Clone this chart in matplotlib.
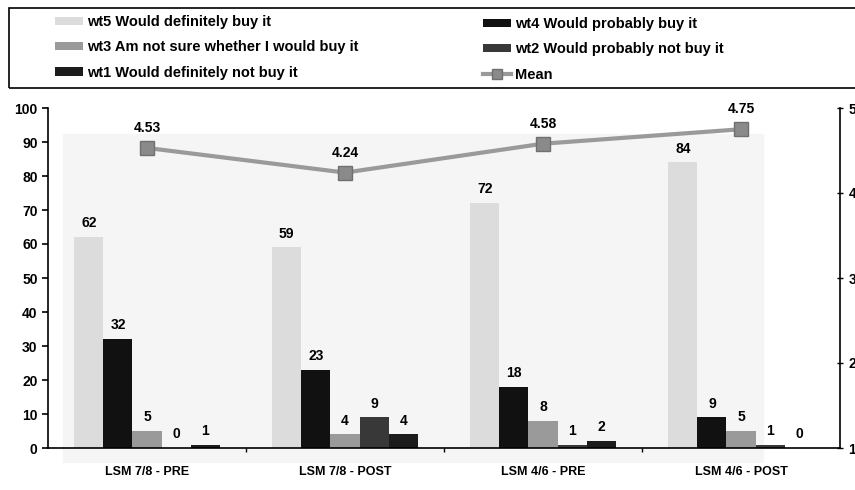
import matplotlib
matplotlib.use('Agg')
import matplotlib.pyplot as plt
from matplotlib.lines import Line2D
from matplotlib.patches import Patch, Rectangle
import numpy as np

plt.rcParams['font.family'] = ['Liberation Sans', 'DejaVu Sans']
plt.rcParams['font.weight'] = 'bold'

groups = ['LSM 7/8 - PRE', 'LSM 7/8 - POST', 'LSM 4/6 - PRE', 'LSM 4/6 - POST']
wt5 = [62, 59, 72, 84]
wt4 = [32, 23, 18, 9]
wt3 = [5, 4, 8, 5]
wt2 = [0, 9, 1, 1]
wt1 = [1, 4, 2, 0]
mean = [4.53, 4.24, 4.58, 4.75]

series = [
    ('wt5 Would definitely buy it', wt5, '#dcdcdc'),
    ('wt4 Would probably buy it', wt4, '#111111'),
    ('wt3 Am not sure whether I would buy it', wt3, '#9a9a9a'),
    ('wt2 Would probably not buy it', wt2, '#383838'),
    ('wt1 Would definitely not buy it', wt1, '#1c1c1c'),
]
MEAN_STYLE = dict(color='#9a9a9a', linewidth=3, marker='s',
                  markerfacecolor='#8a8a8a', markeredgecolor='#707070')

fig = plt.figure(figsize=(8.55, 4.9), dpi=100)
ax = fig.add_axes([48 / 855, 1 - 448 / 490, 792 / 855, 340 / 490])
ax.patch.set_alpha(0)
# faint grey plot area seen in the scan
ax.add_patch(Rectangle((63 / 855, 1 - 462 / 490), 700 / 855, 328 / 490,
                       transform=fig.transFigure, color='#f5f5f5',
                       clip_on=False, zorder=0))

x = np.arange(len(groups))
w = 0.147
for i, (name, vals, col) in enumerate(series):
    xs = x + (i - 2) * w
    ax.bar(xs, vals, width=w, color=col, edgecolor='none', zorder=2)
    for xi, v in zip(xs, vals):
        ax.text(xi, v + 2, str(v), ha='center', va='bottom', fontsize=10,
                fontweight='bold', zorder=4)

ax.set_xlim(-0.5, 3.5)
ax.set_ylim(0, 100)
ax.set_yticks(range(0, 101, 10))
ax.set_xticks(x)
ax.set_xticklabels(groups, fontsize=9, fontweight='bold')
ax.tick_params(axis='x', length=0, pad=13)
ax.tick_params(axis='y', labelsize=10, length=4, width=1.2, direction='out')
for lab in ax.get_yticklabels():
    lab.set_fontweight('bold')
ax.spines['top'].set_visible(False)
ax.spines['right'].set_visible(False)
ax.spines['left'].set_linewidth(1.2)
ax.spines['bottom'].set_linewidth(1.2)
ax.set_xticks([0.5, 1.5, 2.5], minor=True)
ax.tick_params(axis='x', which='minor', length=3, width=1, direction='out')

ax2 = ax.twinx()
ax2.set_ylim(1, 5)
ax2.set_yticks([1, 2, 3, 4, 5])
ax2.tick_params(axis='y', labelsize=10, length=5, width=1, direction='inout')
for lab in ax2.get_yticklabels():
    lab.set_fontweight('bold')
for s in ['top', 'left', 'bottom']:
    ax2.spines[s].set_visible(False)
ax2.spines['right'].set_linewidth(1.2)
ax2.plot(x, mean, markersize=10, zorder=5, **MEAN_STYLE)
for xi, m in zip(x, mean):
    ax2.text(xi, m + 0.15, f'{m:.2f}', ha='center', va='bottom', fontsize=10,
             fontweight='bold')

col1 = [Patch(facecolor=series[k][2], label=series[k][0]) for k in (0, 2, 4)]
col2 = [Patch(facecolor=series[k][2], label=series[k][0]) for k in (1, 3)]
col2.append(Line2D([], [], markersize=7, label='Mean', **MEAN_STYLE))
leg_kw = dict(loc='upper left', prop={'weight': 'bold', 'size': 10.5},
              frameon=False, handlelength=1.9, handleheight=0.5,
              handletextpad=0.3, labelspacing=0.78, borderpad=0,
              borderaxespad=0)
fig.legend(handles=col1, bbox_to_anchor=(55 / 855, 1 - 15 / 490), **leg_kw)
fig.legend(handles=col2, bbox_to_anchor=(483 / 855, 1 - 17 / 490), **leg_kw)
fig.patches.append(Rectangle((9 / 855, 1 - 88 / 490), 860 / 855, 80 / 490,
                             transform=fig.transFigure, fill=False,
                             edgecolor='black', linewidth=1.2))

fig.savefig('out.png', dpi=100)
